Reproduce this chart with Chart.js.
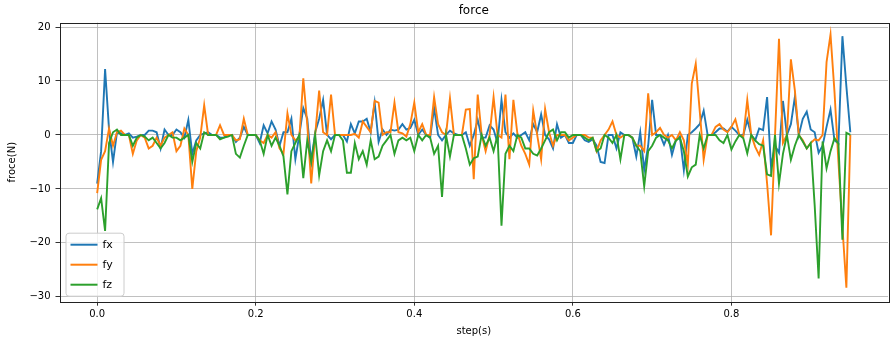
<!DOCTYPE html>
<html>
<head>
<meta charset="utf-8">
<script src="https://cdn.jsdelivr.net/npm/chart.js@4.4.1/dist/chart.umd.min.js"></script>
<style>
  body { margin: 0; background: #fff; }
  canvas { display: block; }
</style>
</head>
<body>
<canvas id="chart" width="894" height="345"></canvas>
<script>
// sampling step of the recording (s)
const dt = 0.005;

// force components, one value per step
const fx = [
  -9, -3, 12.2, 1, -5, 0.5, 0.3, 0, 0.3, -0.5,
  -0.3, 0, 0, 0.8, 0.8, 0.5, -2.5, 1, 0, 0,
  1, 0.5, -0.5, 2.8, -3.5, -1, 0, 0.3, 0.5, 0,
  0, -0.5, -0.5, 0, 0, -1.3, -0.5, 1.5, 0, 0,
  0, -1.5, 1.8, 0.3, 2.5, 1, -2, 0.5, 0.5, 3,
  -4.5, 0, 5, 3, -5, 0.5, 3, 6.5, 0, -0.8,
  0, 0, 0, -1.2, 2, 0.3, 2.5, 2.5, 3, 0.5,
  6, -1.3, 1, 0, 1, 0.8, 1, 2, 1, 1.3,
  2.8, 0, 1, 0, -0.5, 5, 0, -1, 0, 0.8,
  0.3, 0, 0, 0.5, -2, 0, 2.8, -0.5, -0.5, 1.8,
  1, -1.5, 6.5, 0.5, -0.5, 0.3, -0.5, 0, 0.5, -1,
  2, 0.5, 3.8, 0, -0.8, -2.5, 2, -0.5, 0, -1.5,
  -1.5, 0, 0, -1, -1.3, -0.8, -2, -5, -5.2, 0,
  0, -2.5, 0.5, 0, 0, -0.5, -4, 0.5, -6.5, -2,
  6.5, 0, 0, -1.8, 0, -3.7, -1, -0.3, -6.5, 0,
  0.5, 1.2, 2, 4.5, 0, 0, 0.5, 1.2, 1.2, 0.6,
  1.5, 0.8, 0, 0, 2.8, 0, -1, 1.2, 0.9, 7,
  -6, -2, -3.3, 6.3, 0, 2, 7, 0, 3, 4.3,
  1, 0.5, -3.3, -2, 1.5, 4.7, -1, -1.6, 18.3, 9,
  0.5
];
const fy = [
  -10.8, -4.6, -3, 1.2, -2, 0.5, 0.8, 0, 0, -3.5,
  -1, 0, -0.5, -2.5, -2, -0.5, -2, -0.5, 0, 0.5,
  -3, -2, 1.2, 0, -10, -3, -0.5, 5.5, 0, 0,
  0, 1.8, 0, 0, 0, -1, -0.8, 3, 0, 0,
  0, -1, -1.5, 0, -0.5, 0.5, -2.5, -3.5, 4, 0,
  -1, -0.5, 10.5, 2, -9, 0, 8.2, 0.5, 0, 7.5,
  0, 0, 0, 0, 0, 0.2, -0.5, 2.5, 1.5, 0.5,
  6.3, 6, 0, 0.5, 0.5, 6, 0.5, 0.3, -0.3, 2,
  6, 0.5, 2, 0, 0, 7, 2, 0.5, 0, 6.8,
  0, 0, 0, 4.7, 4.8, -8.2, 7.5, 0, -3, 0,
  7, 0, -0.5, 7.5, -4.5, 6.5, 0.3, -2, -3.5, -5.5,
  4.5, 0, -4.5, 4.8, 0.5, -2, 0, 0, 0, -1,
  -0.5, 0, 0, 0, -0.5, -0.5, -3, -1, 0, 1,
  2.5, 0, -0.5, 0, 0, -0.5, -2, -2, -3, 7.7,
  0, 0.5, 1.3, 0, -0.5, 0, -1, 0.5, -1, -5.5,
  9.5, 13.2, 4.5, -4.6, 0, 0, 1.5, 2, 1, 0.5,
  1.5, 2.9, 0, -0.3, 6.5, 0, -2.2, -3.7, -1, -9,
  -18.6, 0, 17.8, -1.5, 0, 14, 8.3, 0, -1, -2.5,
  -1.5, -0.8, -1, 0, 13.5, 18.6, 8, -5, -17, -28.3,
  0
];
const fz = [
  -13.8, -11.7, -17.8, -1.5, 0.5, 1, 0, 0, 0, -2,
  -0.5, 0, -0.3, -1, -0.5, -1.5, -2.5, -1.5, 0, -0.5,
  -0.5, -1, -0.5, 0, -5, -1.5, -2.5, 0.5, 0, 0,
  0, -0.8, -0.5, -0.3, 0, -3.5, -4.2, -2, 0, 0,
  0, -1, -3.5, 0, -2, -0.5, -2, -4, -11, -3,
  -1.5, 0, -8, -1, -5, 0, -7.5, -3, -1, -3,
  0, 0, -1, -7, -7, -1.5, -4.5, -3, -5.5, -1,
  -4.5, -4, -2, -1, 0, -3.5, -1, -0.5, -1, -0.5,
  -3, 0, -1, 0, -0.5, -3.5, -2, -11.5, 0, -4,
  0, 0, 0, -2.5, -5.5, -4.3, -4, 0, -2, -0.5,
  -3, 0, -16.8, -3.5, -2, -3, 0, -0.5, -2.5, -2.5,
  -3.5, -3.8, -2.5, -1, 0.5, 1, -1, 0.5, 0.5, -0.5,
  0, 0, 0, -0.5, -1, -0.5, -3, -2.5, 0, -0.5,
  -1.5, 0, -4.5, 0, 0, -0.5, -2, -3, -9.5, -3,
  -2, -0.5, 0, -0.5, -1, -2.5, -1, -0.5, -3, -7.7,
  -6, -5.5, 0, -2.5, 0, 0, 0, -1, -1.5, 0,
  -2.7, -1.2, 0, -0.6, -3.4, 0, -1, -1.7, -2, -7.3,
  -7.6, 0, -9, -3.5, 0, -4.6, -2, 0, -1.2, -2.5,
  -1.5, -13, -26.6, -1.2, -6.2, -3, -0.6, -1.6, -19.4, 0.4,
  0
];

const steps = fx.map((_, i) => +(i * dt).toFixed(3));
const xTicks = [0, 0.2, 0.4, 0.6, 0.8];
const yTicks = [-30, -20, -10, 0, 10, 20];
const seriesNames = ["fx", "fy", "fz"];
const colors = ["#1f77b4", "#ff7f0e", "#2ca02c"];

const FONT = "DejaVu Sans";

function toPoints(values) {
  return values.map((v, i) => ({ x: steps[i], y: v }));
}

// title, axes frame and the in-plot legend (matplotlib style)
const decor = {
  id: "decor",
  afterDraw(chart) {
    const ctx = chart.ctx;
    const a = chart.chartArea;
    ctx.save();

    // frame
    ctx.strokeStyle = "#222";
    ctx.lineWidth = 1;
    ctx.strokeRect(Math.round(a.left) + 0.5, Math.round(a.top) + 0.5,
      Math.round(a.right - a.left), Math.round(a.bottom - a.top));

    // title
    ctx.fillStyle = "#000";
    ctx.font = "12px '" + FONT + "'";
    ctx.textAlign = "center";
    ctx.textBaseline = "middle";
    ctx.fillText("force", (a.left + a.right) / 2, 10.5);

    // legend box
    const bx = a.left + 6, by = a.bottom - 69, bw = 58, bh = 63;
    ctx.beginPath();
    ctx.roundRect(bx + 0.5, by + 0.5, bw, bh, 3);
    ctx.fillStyle = "rgba(255,255,255,0.8)";
    ctx.fill();
    ctx.strokeStyle = "#cccccc";
    ctx.stroke();

    ctx.font = "11px '" + FONT + "'";
    ctx.textAlign = "left";
    seriesNames.forEach((name, k) => {
      const y = by + 12 + k * 20;
      ctx.strokeStyle = colors[k];
      ctx.lineWidth = 2;
      ctx.beginPath();
      ctx.moveTo(bx + 5, y);
      ctx.lineTo(bx + 32, y);
      ctx.stroke();
      ctx.fillStyle = "#000";
      ctx.fillText(name, bx + 37, y);
    });
    ctx.restore();
  }
};

new Chart(document.getElementById("chart").getContext("2d"), {
  type: "line",
  data: {
    datasets: [fx, fy, fz].map((vals, k) => ({
      label: seriesNames[k],
      data: toPoints(vals),
      borderColor: colors[k],
      backgroundColor: colors[k],
      borderWidth: 1.9,
      pointRadius: 0,
      tension: 0,
      order: 2 - k
    }))
  },
  options: {
    responsive: false,
    animation: false,
    devicePixelRatio: 1,
    layout: { padding: { top: 22.7, right: 6, left: 0, bottom: 0 } },
    plugins: {
      legend: { display: false },
      tooltip: { enabled: false }
    },
    scales: {
      x: {
        type: "linear",
        min: -0.0475,
        max: 0.9975,
        afterBuildTicks: s => { s.ticks = xTicks.map(v => ({ value: v })); },
        afterFit: s => { s.height = 43.3; },
        ticks: {
          callback: v => v.toFixed(1),
          font: { family: FONT, size: 10 },
          color: "#000",
          padding: 3,
          maxRotation: 0
        },
        grid: { color: "#b0b0b0", lineWidth: 0.8, tickColor: "#000", tickLength: 4 },
        border: { display: false },
        title: {
          display: true,
          text: "step(s)",
          font: { family: FONT, size: 10 },
          color: "#000",
          padding: { top: 0, bottom: 8 }
        }
      },
      y: {
        min: -30.9,
        max: 20.8,
        afterBuildTicks: s => { s.ticks = yTicks.map(v => ({ value: v })); },
        afterFit: s => { s.width = 59.5; },
        ticks: {
          callback: v => String(v).replace("-", "\u2212"),
          font: { family: FONT, size: 10 },
          color: "#000",
          padding: 5
        },
        grid: { color: "#b0b0b0", lineWidth: 0.8, tickColor: "#000", tickLength: 4 },
        border: { display: false },
        title: {
          display: true,
          text: "froce(N)",
          font: { family: FONT, size: 10 },
          color: "#000",
          padding: { top: 6.5, bottom: 0 }
        }
      }
    }
  },
  plugins: [decor]
});
</script>
</body>
</html>
